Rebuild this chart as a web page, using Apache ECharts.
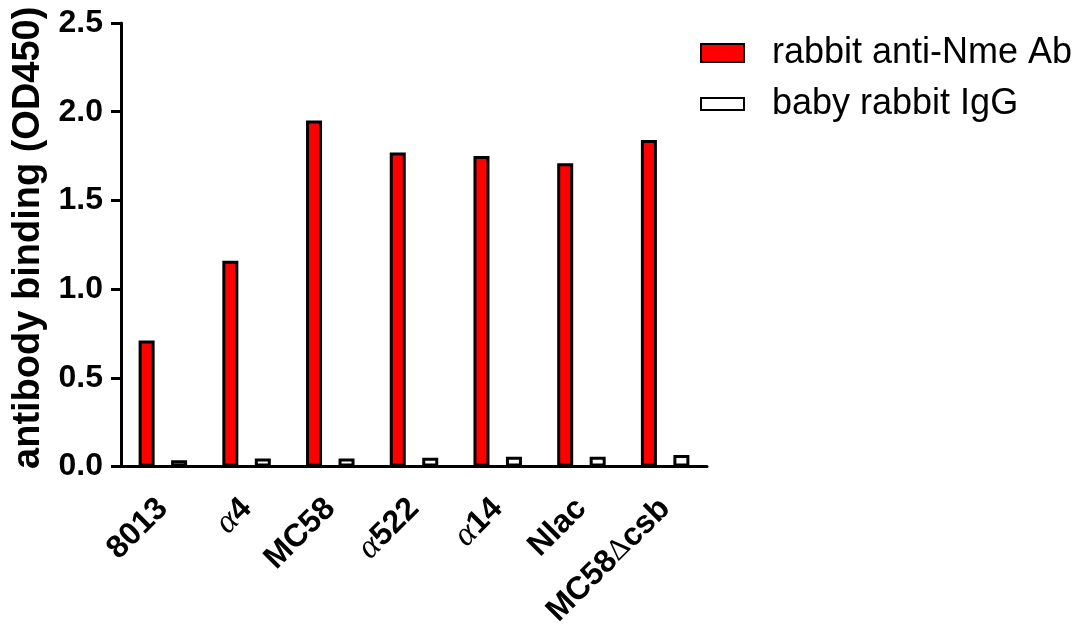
<!DOCTYPE html>
<html>
<head>
<meta charset="utf-8">
<script src="https://cdn.jsdelivr.net/npm/echarts@6/dist/echarts.min.js"></script>
<style>
  html, body { margin: 0; padding: 0; background: #ffffff; }
  #chart { width: 1081px; height: 630px; }
</style>
</head>
<body>
<div id="chart"></div>
<script>
// Strains tested and mean OD450 readings
const categories = ['8013', 'α4', 'MC58', 'α522', 'α14', 'Nlac', 'MC58Δcsb'];
const antiNmeAb = [0.71, 1.16, 1.95, 1.77, 1.75, 1.71, 1.84];
const babyRabbitIgG = [0.035, 0.045, 0.045, 0.05, 0.055, 0.055, 0.065];
const seriesNames = ['rabbit anti-Nme Ab', 'baby rabbit IgG'];
const yAxisTitle = 'antibody binding (OD450)';

const SANS = '"Liberation Sans", Arial, Helvetica, sans-serif';
const SERIF = '"Liberation Serif", "Times New Roman", serif';
const LABEL_SIZE = 32;

// Greek letters in strain names are set in a light serif face
function strainLabel(name) {
  return name.replace(/α/g, '{a|α}').replace(/Δ/g, '{d|Δ}');
}

const chart = echarts.init(document.getElementById('chart'), null, { renderer: 'canvas' });

chart.setOption({
  backgroundColor: '#ffffff',
  animation: false,
  grid: { left: 121, right: 374, top: 23, bottom: 161, containLabel: false },
  legend: {
    orient: 'vertical',
    left: 695,
    top: 30,
    itemWidth: 43,
    itemHeight: 18,
    itemGap: 15,
    symbolKeepAspect: true,
    selectedMode: false,
    data: [
      { name: seriesNames[0], icon: 'rect' },
      { name: seriesNames[1], icon: 'path://M0,0 H43 V12 H0 Z' }
    ],
    textStyle: {
      fontFamily: SANS,
      fontSize: 36,
      lineHeight: 36,
      color: '#000000',
      padding: [0, 0, 0, 23]
    }
  },
  xAxis: {
    type: 'category',
    data: categories,
    axisLine: { lineStyle: { color: '#000000', width: 3 } },
    axisTick: { alignWithLabel: true, length: 12, lineStyle: { color: '#000000', width: 3 } },
    axisLabel: {
      interval: 0,
      rotate: 45,
      margin: 37,
      fontFamily: SANS,
      fontWeight: 'bold',
      fontSize: LABEL_SIZE,
      color: '#000000',
      formatter: strainLabel,
      rich: {
        a: { fontFamily: SERIF, fontStyle: 'italic', fontWeight: 'normal', fontSize: LABEL_SIZE + 2, color: '#000000' },
        d: { fontFamily: SERIF, fontWeight: 'normal', fontSize: LABEL_SIZE - 2, color: '#000000' }
      }
    },
    splitLine: { show: false }
  },
  yAxis: {
    type: 'value',
    min: 0,
    max: 2.5,
    interval: 0.5,
    name: yAxisTitle,
    nameLocation: 'middle',
    nameRotate: 90,
    nameGap: 70,
    nameTextStyle: {
      fontFamily: SANS,
      fontWeight: 'bold',
      fontSize: 38,
      color: '#000000',
      padding: [0, 0, 0, 14]
    },
    axisLine: { show: true, lineStyle: { color: '#000000', width: 3 } },
    axisTick: { show: true, length: 10, lineStyle: { color: '#000000', width: 3 } },
    axisLabel: {
      margin: 18,
      fontFamily: SANS,
      fontWeight: 'bold',
      fontSize: LABEL_SIZE,
      color: '#000000',
      formatter: v => v.toFixed(1)
    },
    splitLine: { show: false }
  },
  series: [
    {
      name: seriesNames[0],
      type: 'bar',
      data: antiNmeAb,
      barWidth: 16,
      barGap: '103%',
      itemStyle: { color: '#ff0000', borderColor: '#000000', borderWidth: 3 }
    },
    {
      name: seriesNames[1],
      type: 'bar',
      data: babyRabbitIgG,
      barWidth: 16,
      barGap: '103%',
      itemStyle: { color: '#ffffff', borderColor: '#000000', borderWidth: 3 }
    }
  ]
});
</script>
</body>
</html>
